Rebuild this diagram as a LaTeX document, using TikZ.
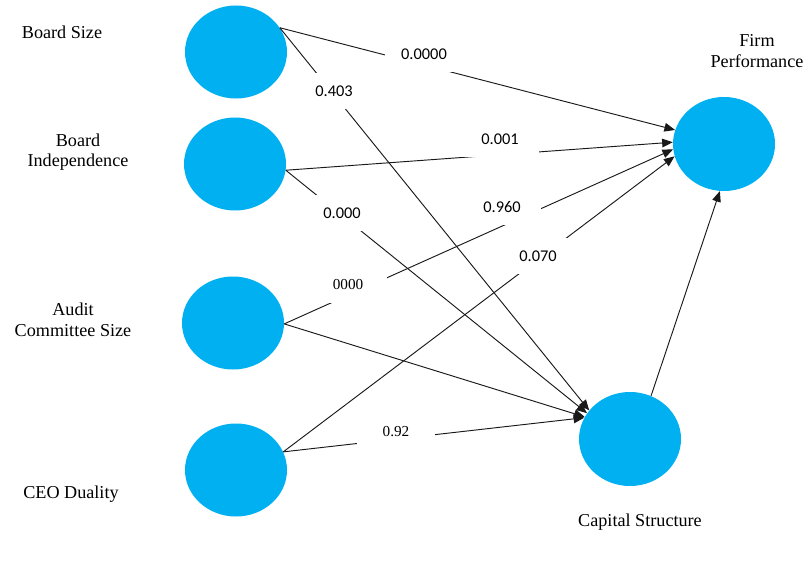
\documentclass[tikz,border=0pt]{standalone}
\usepackage{fontspec}
\setmainfont{Liberation Serif}
\newfontfamily\calibri{Carlito}
\usetikzlibrary{shapes.geometric,arrows.meta}
\definecolor{azzurro}{RGB}{0,176,240}

\begin{document}
\begin{tikzpicture}[x=0.03cm,y=-0.03cm,
        var/.style={ellipse, fill=azzurro, minimum width=3.06cm, minimum height=2.79cm, inner sep=0pt},
        nome/.style={align=center, font=\fontsize{15.5}{17.5}\selectfont},
        peso/.style={fill=white, minimum width=2.34cm, minimum height=1.08cm, inner sep=0pt, font=\calibri\fontsize{14}{16}\selectfont},
        pesoserif/.style={peso, font=\fontsize{13}{15}\selectfont},
        freccia/.style={-{Triangle[length=0.32cm,width=0.26cm]}, line width=0.8pt, black!90}]
        \useasboundingbox (0,0) rectangle (812,561);
        \node[var] (bs) at (236,52) {}; % variabili indipendenti
        \node[var] (bi) at (235,164) {};
        \node[var] (ac) at (233,323) {};
        \node[var] (cd) at (236,470) {};
        \node[var, minimum height=2.82cm] (fp) at (724,144) {}; % variabile dipendente
        \node[var, minimum height=2.82cm] (cs) at (630,439) {}; % mediatore
        \node[nome] (tbs) at (62,32) {Board Size};
        \node[nome] (tbi) at (78,152) {Board\\Independence};
        \node[nome] (tac) at (73,320) {Audit\\Committee Size};
        \node[nome] (tcd) at (71,494) {CEO Duality};
        \node[nome] (tfp) at (757,51) {Firm\\Performance};
        \node[nome] (tcs) at (640,522) {Capital Structure};
        \draw[freccia] (bs.29) -- (fp.164); % percorsi diretti
        \draw[freccia] (bi.-7) -- (fp.178);
        \draw[freccia] (ac.-1) -- (fp.186);
        \draw[freccia] (cd.21) -- (fp.194);
        \draw[freccia] (bs.29) -- (cs.145); % percorsi verso il mediatore
        \draw[freccia] (bi.-7) -- (cs.149);
        \draw[freccia] (ac.-1) -- (cs.154);
        \draw[freccia] (cd.21) -- (cs.155);
        \draw[freccia] (cs.64) -- (fp.265);
        \node[peso] (p1) at (424,54) {0.0000}; % coefficienti sopra le linee
        \node[peso] (p2) at (334,91) {0.403};
        \node[peso] (p3) at (500,139) {0.001};
        \node[peso] (p4) at (342,213) {0.000};
        \node[peso] (p5) at (502,207) {0.960};
        \node[peso] (p6) at (538,256) {0.070};
        \node[pesoserif] (p7) at (348,285) {0000};
        \node[pesoserif] (p8) at (396,432) {0.92};
    \end{tikzpicture}
\end{document}
